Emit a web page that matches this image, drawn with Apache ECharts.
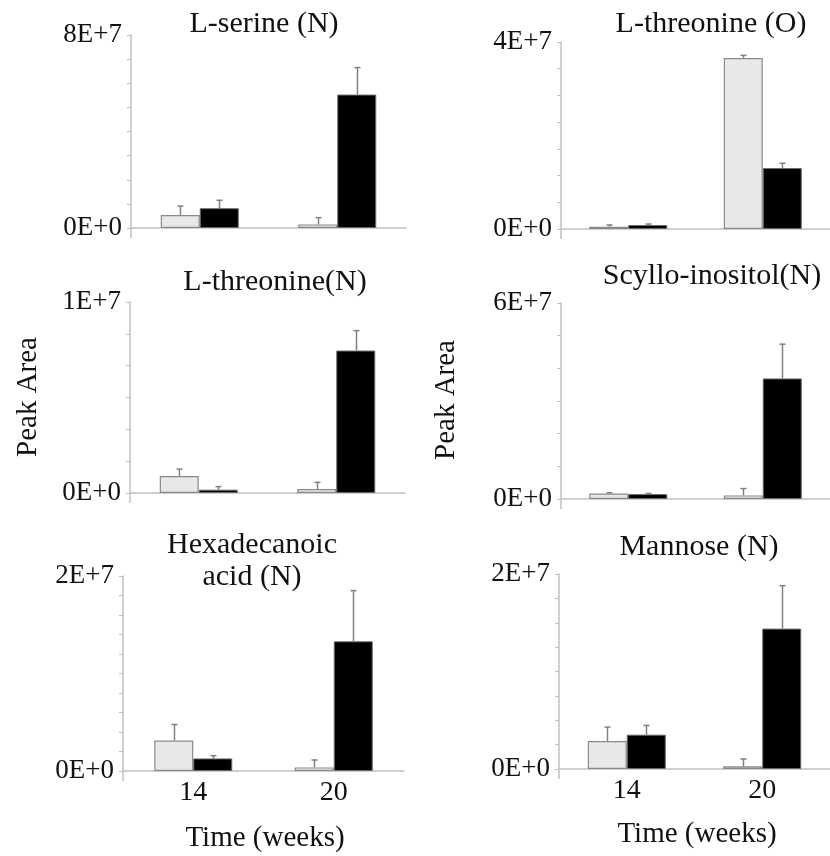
<!DOCTYPE html>
<html>
<head>
<meta charset="utf-8">
<script src="https://cdn.jsdelivr.net/npm/echarts@6/dist/echarts.min.js"></script>
<style>
  html, body { margin: 0; padding: 0; background: #fff; }
  #chart { width: 830px; height: 856px; }
</style>
</head>
<body>
<div id="chart"></div>
<script>
// time points (weeks)
const weeks = ['14', '20']

// panel titles
const titles = ['L-serine (N)', 'L-threonine (O)', 'L-threonine(N)', 'Scyllo-inositol(N)', 'Hexadecanoic\nacid (N)', 'Mannose (N)']

// y axis ranges
const axisMax = [8e7, 3.5e7, 1.2e7, 6e7, 2e7, 2e7]
const axisStep = [1e7, 5e6, 2e6, 1e7, 2e6, 2.5e6]

// light grey bars (mean) and their error
const serineLight = [5.4e6, 1.5e6]
const serineLightErr = [3.7e6, 2.8e6]
const threonineOLight = [4.3e5, 3.2e7]
const threonineOLightErr = [3.2e5, 5e5]
const threonineNLight = [1.07e6, 2.5e5]
const threonineNLightErr = [4.3e5, 4.2e5]
const scylloLight = [1.7e6, 1.1e6]
const scylloLightErr = [2e5, 2.1e6]
const hexadecanoicLight = [3.13e6, 3.7e5]
const hexadecanoicLightErr = [1.64e6, 7.6e5]
const mannoseLight = [2.87e6, 2.7e5]
const mannoseLightErr = [1.43e6, 7.6e5]

// black bars (mean) and their error
const serineDark = [8.2e6, 5.53e7]
const serineDarkErr = [3.3e6, 1.12e7]
const threonineODark = [7.5e5, 1.14e7]
const threonineODarkErr = [1.8e5, 9e5]
const threonineNDark = [2.1e5, 8.95e6]
const threonineNDarkErr = [1.9e5, 1.25e6]
const scylloDark = [1.5e6, 3.69e7]
const scylloDarkErr = [2e5, 1.05e7]
const hexadecanoicDark = [1.29e6, 1.33e7]
const hexadecanoicDarkErr = [2.8e5, 5.2e6]
const mannoseDark = [3.52e6, 1.44e7]
const mannoseDarkErr = [9.5e5, 4.4e6]

const lightSets = [serineLight, threonineOLight, threonineNLight, scylloLight, hexadecanoicLight, mannoseLight]
const lightErrSets = [serineLightErr, threonineOLightErr, threonineNLightErr, scylloLightErr, hexadecanoicLightErr, mannoseLightErr]
const darkSets = [serineDark, threonineODark, threonineNDark, scylloDark, hexadecanoicDark, mannoseDark]
const darkErrSets = [serineDarkErr, threonineODarkErr, threonineNDarkErr, scylloDarkErr, hexadecanoicDarkErr, mannoseDarkErr]

const FONT = 'Liberation Serif'
const BAR_W = 39
const AXIS_GREY = '#c0c0c0'
const ERR_GREY = '#808080'

// plot boxes: left, top, width, height
const grids = [
  { left: 131, top: 35, width: 275, height: 193 },
  { left: 561, top: 42, width: 279, height: 187 },
  { left: 130, top: 302, width: 275, height: 191 },
  { left: 561, top: 303, width: 279, height: 196 },
  { left: 123, top: 576, width: 281, height: 195 },
  { left: 559, top: 574, width: 281, height: 195 }
]

// title centres
const titlePos = [[264, 8], [711, 8], [275, 266], [712, 260], [252, 529], [699, 531]]

function errorItem(offset) {
  return function(params, api) {
    const base = api.coord([api.value(0), api.value(1)])
    const top = api.coord([api.value(0), api.value(1) + api.value(2)])
    const cx = Math.round(base[0] + offset) + 0.5
    const lineStyle = { stroke: ERR_GREY, lineWidth: 1.5 }
    return {
      type: 'group',
      children: [
        { type: 'line', shape: { x1: cx, y1: base[1], x2: cx, y2: top[1] }, style: lineStyle },
        { type: 'line', shape: { x1: cx - 3, y1: top[1], x2: cx + 3, y2: top[1] }, style: lineStyle }
      ]
    }
  }
}

const xAxis = []
const yAxis = []
const series = []
const title = []
const stubs = []

grids.forEach((g, i) => {
  const bottomRow = i >= 4
  xAxis.push({
    gridIndex: i,
    type: 'category',
    data: weeks,
    axisTick: { show: false },
    axisLine: { lineStyle: { color: AXIS_GREY, width: 1.5 } },
    axisLabel: {
      show: bottomRow,
      margin: 8,
      color: '#111',
      fontFamily: FONT,
      fontSize: 28
    }
  })
  yAxis.push({
    gridIndex: i,
    type: 'value',
    min: 0,
    max: axisMax[i],
    interval: axisStep[i],
    splitLine: { show: false },
    axisLine: { show: true, lineStyle: { color: AXIS_GREY, width: 1.5 } },
    axisTick: { show: true, length: 4, lineStyle: { color: AXIS_GREY } },
    axisLabel: {
      margin: 9,
      color: '#111',
      fontFamily: FONT,
      fontSize: 27,
      formatter: v => (v === 0 || v === axisMax[i]) ? v.toExponential(0).toUpperCase() : ''
    }
  })
  series.push({
    type: 'bar',
    xAxisIndex: i,
    yAxisIndex: i,
    barWidth: BAR_W,
    barGap: '0%',
    data: lightSets[i],
    itemStyle: { color: '#e8e8e8', borderColor: '#8a8a8a', borderWidth: 1.2 }
  })
  series.push({
    type: 'bar',
    xAxisIndex: i,
    yAxisIndex: i,
    barWidth: BAR_W,
    barGap: '0%',
    data: darkSets[i],
    itemStyle: { color: '#000', borderColor: '#6a6a6a', borderWidth: 1 }
  })
  series.push({
    type: 'custom',
    xAxisIndex: i,
    yAxisIndex: i,
    z: 5,
    renderItem: errorItem(-BAR_W / 2),
    encode: { x: 0, y: 1 },
    data: lightSets[i].map((v, k) => [k, v, lightErrSets[i][k]])
  })
  series.push({
    type: 'custom',
    xAxisIndex: i,
    yAxisIndex: i,
    z: 5,
    renderItem: errorItem(BAR_W / 2),
    encode: { x: 0, y: 1 },
    data: darkSets[i].map((v, k) => [k, v, darkErrSets[i][k]])
  })
  title.push({
    text: titles[i],
    left: titlePos[i][0],
    top: titlePos[i][1],
    textAlign: 'center',
    padding: 0,
    textStyle: {
      fontFamily: FONT,
      fontSize: 30,
      fontWeight: 'normal',
      color: '#111',
      lineHeight: 32
    }
  })
  // the y axis line runs a little past the x axis
  stubs.push({
    type: 'line',
    shape: { x1: g.left, y1: g.top + g.height, x2: g.left, y2: g.top + g.height + 10 },
    style: { stroke: AXIS_GREY, lineWidth: 1.5 }
  })
})

const labelFont = '29px "Liberation Serif"'

const chart = echarts.init(document.getElementById('chart'))
chart.setOption({
  animation: false,
  backgroundColor: '#fff',
  textStyle: { fontFamily: FONT },
  title: title,
  grid: grids,
  xAxis: xAxis,
  yAxis: yAxis,
  series: series,
  graphic: stubs.concat([
    { type: 'text', x: 28, y: 397, rotation: Math.PI / 2, style: { text: 'Peak Area', font: labelFont, fill: '#111', align: 'center', verticalAlign: 'middle' } },
    { type: 'text', x: 446, y: 400, rotation: Math.PI / 2, style: { text: 'Peak Area', font: labelFont, fill: '#111', align: 'center', verticalAlign: 'middle' } },
    { type: 'text', x: 265, y: 838, style: { text: 'Time (weeks)', font: labelFont, fill: '#111', align: 'center', verticalAlign: 'middle' } },
    { type: 'text', x: 697, y: 834, style: { text: 'Time (weeks)', font: labelFont, fill: '#111', align: 'center', verticalAlign: 'middle' } }
  ])
})
</script>
</body>
</html>
